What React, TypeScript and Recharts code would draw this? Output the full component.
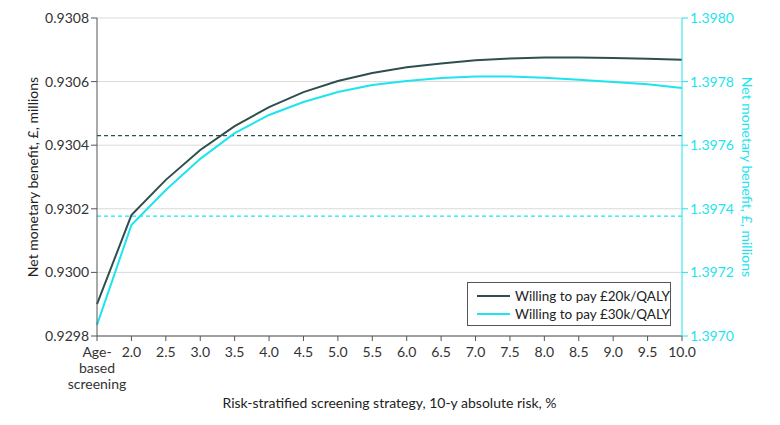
import React from 'react';
import {
  LineChart,
  Line,
  XAxis,
  YAxis,
  CartesianGrid,
  ReferenceLine,
} from 'recharts';

const categories = [
  'Age-\nbased\nscreening',
  '2.0', '2.5', '3.0', '3.5', '4.0', '4.5', '5.0', '5.5', '6.0',
  '6.5', '7.0', '7.5', '8.0', '8.5', '9.0', '9.5', '10.0',
];

// left axis, £20k/QALY
const wtp20k = [
  0.9299, 0.93018, 0.930291, 0.930385, 0.93046, 0.93052, 0.930567, 0.930602,
  0.930627, 0.930645, 0.930657, 0.930667, 0.930673, 0.930676, 0.930676,
  0.930674, 0.930672, 0.930669,
];

// right axis, £30k/QALY
const wtp30k = [
  1.397035, 1.397349, 1.397459, 1.397557, 1.397638, 1.397695, 1.397736,
  1.397767, 1.397789, 1.397802, 1.397811, 1.397816, 1.397816, 1.397812,
  1.397806, 1.397799, 1.397792, 1.39778,
];

const refLeft = 0.93043;
const refRight = 1.397377;

const leftTicks = [0.9298, 0.93, 0.9302, 0.9304, 0.9306, 0.9308];
const rightTicks = [1.397, 1.3972, 1.3974, 1.3976, 1.3978, 1.398];

const seriesLabels = ['Willing to pay £20k/QALY', 'Willing to pay £30k/QALY'];

const DARK = '#2f4f4f';
const CYAN = '#1de4ee';

const data = categories.map((c, i) => ({
  name: c,
  wtp20k: wtp20k[i],
  wtp30k: wtp30k[i],
}));

const XTick = (props: any) => {
  const { x, y, payload } = props;
  const lines = String(payload.value).split('\n');
  return (
    <text x={x} y={y + 4} textAnchor="middle" fill="#333" fontSize={14}>
      {lines.map((l, i) => (
        <tspan key={i} x={x} dy={i === 0 ? '0.71em' : 16}>
          {l}
        </tspan>
      ))}
    </text>
  );
};

const LegendBox = () => (
  <div
    style={{
      position: 'absolute',
      left: 467,
      top: 282,
      width: 204,
      height: 44,
      boxSizing: 'border-box',
      border: '1px solid #555',
      padding: '4px 0 0 9px',
      background: '#fff',
      fontSize: 13.5,
      color: '#222',
      lineHeight: '18px',
      whiteSpace: 'nowrap',
    }}
  >
    {[DARK, CYAN].map((color, i) => (
      <div key={i} style={{ display: 'flex', alignItems: 'center' }}>
        <span
          style={{
            display: 'inline-block',
            width: 40,
            height: 2,
            background: color,
            marginRight: 5,
          }}
        />
        {seriesLabels[i]}
      </div>
    ))}
  </div>
);

export default function App() {
  return (
    <div
      style={{
        position: 'absolute',
        left: 0,
        top: 0,
        width: 780,
        height: 425,
        background: '#fff',
        fontFamily: 'Lato, sans-serif',
      }}
    >
      <LineChart
        width={780}
        height={425}
        data={data}
        margin={{ top: 18, right: 0, bottom: 0, left: 0 }}
      >
        <CartesianGrid vertical={false} stroke="#d9d9d9" yAxisId="left" />
        <XAxis
          dataKey="name"
          interval={0}
          height={89}
          tick={<XTick />}
          tickLine={{ stroke: '#555' }}
          axisLine={{ stroke: '#555' }}
          tickSize={5}
          label={{
            value: 'Risk-stratified screening strategy, 10-y absolute risk, %',
            position: 'insideBottom',
            offset: 17,
            fill: '#222',
            fontSize: 14,
          }}
        />
        <YAxis
          yAxisId="left"
          orientation="left"
          width={97}
          domain={[0.9298, 0.9308]}
          ticks={leftTicks}
          tickFormatter={(v: number) => v.toFixed(4)}
          tick={{ fill: '#333', fontSize: 14 }}
          tickLine={{ stroke: '#555' }}
          axisLine={{ stroke: '#555' }}
          allowDataOverflow
          label={{
            value: 'Net monetary benefit, £, millions',
            angle: -90,
            position: 'insideLeft',
            offset: 33,
            style: { textAnchor: 'middle' },
            fill: '#222',
            fontSize: 14,
          }}
        />
        <YAxis
          yAxisId="right"
          orientation="right"
          width={98}
          domain={[1.397, 1.398]}
          ticks={rightTicks}
          tickFormatter={(v: number) => v.toFixed(4)}
          tick={{ fill: CYAN, fontSize: 14 }}
          tickLine={{ stroke: CYAN }}
          axisLine={{ stroke: CYAN }}
          allowDataOverflow
          label={{
            value: 'Net monetary benefit, £, millions',
            angle: 90,
            position: 'insideRight',
            offset: 33,
            style: { textAnchor: 'middle' },
            fill: CYAN,
            fontSize: 14,
          }}
        />
        <ReferenceLine
          yAxisId="left"
          y={refLeft}
          stroke={DARK}
          strokeDasharray="4 3"
          strokeWidth={1.2}
        />
        <ReferenceLine
          yAxisId="right"
          y={refRight}
          stroke={CYAN}
          strokeDasharray="4 3"
          strokeWidth={1.2}
        />
        <Line
          yAxisId="left"
          dataKey="wtp20k"
          name={seriesLabels[0]}
          type="linear"
          stroke={DARK}
          strokeWidth={2}
          dot={false}
          isAnimationActive={false}
        />
        <Line
          yAxisId="right"
          dataKey="wtp30k"
          name={seriesLabels[1]}
          type="linear"
          stroke={CYAN}
          strokeWidth={2}
          dot={false}
          isAnimationActive={false}
        />
      </LineChart>
      <LegendBox />
    </div>
  );
}
